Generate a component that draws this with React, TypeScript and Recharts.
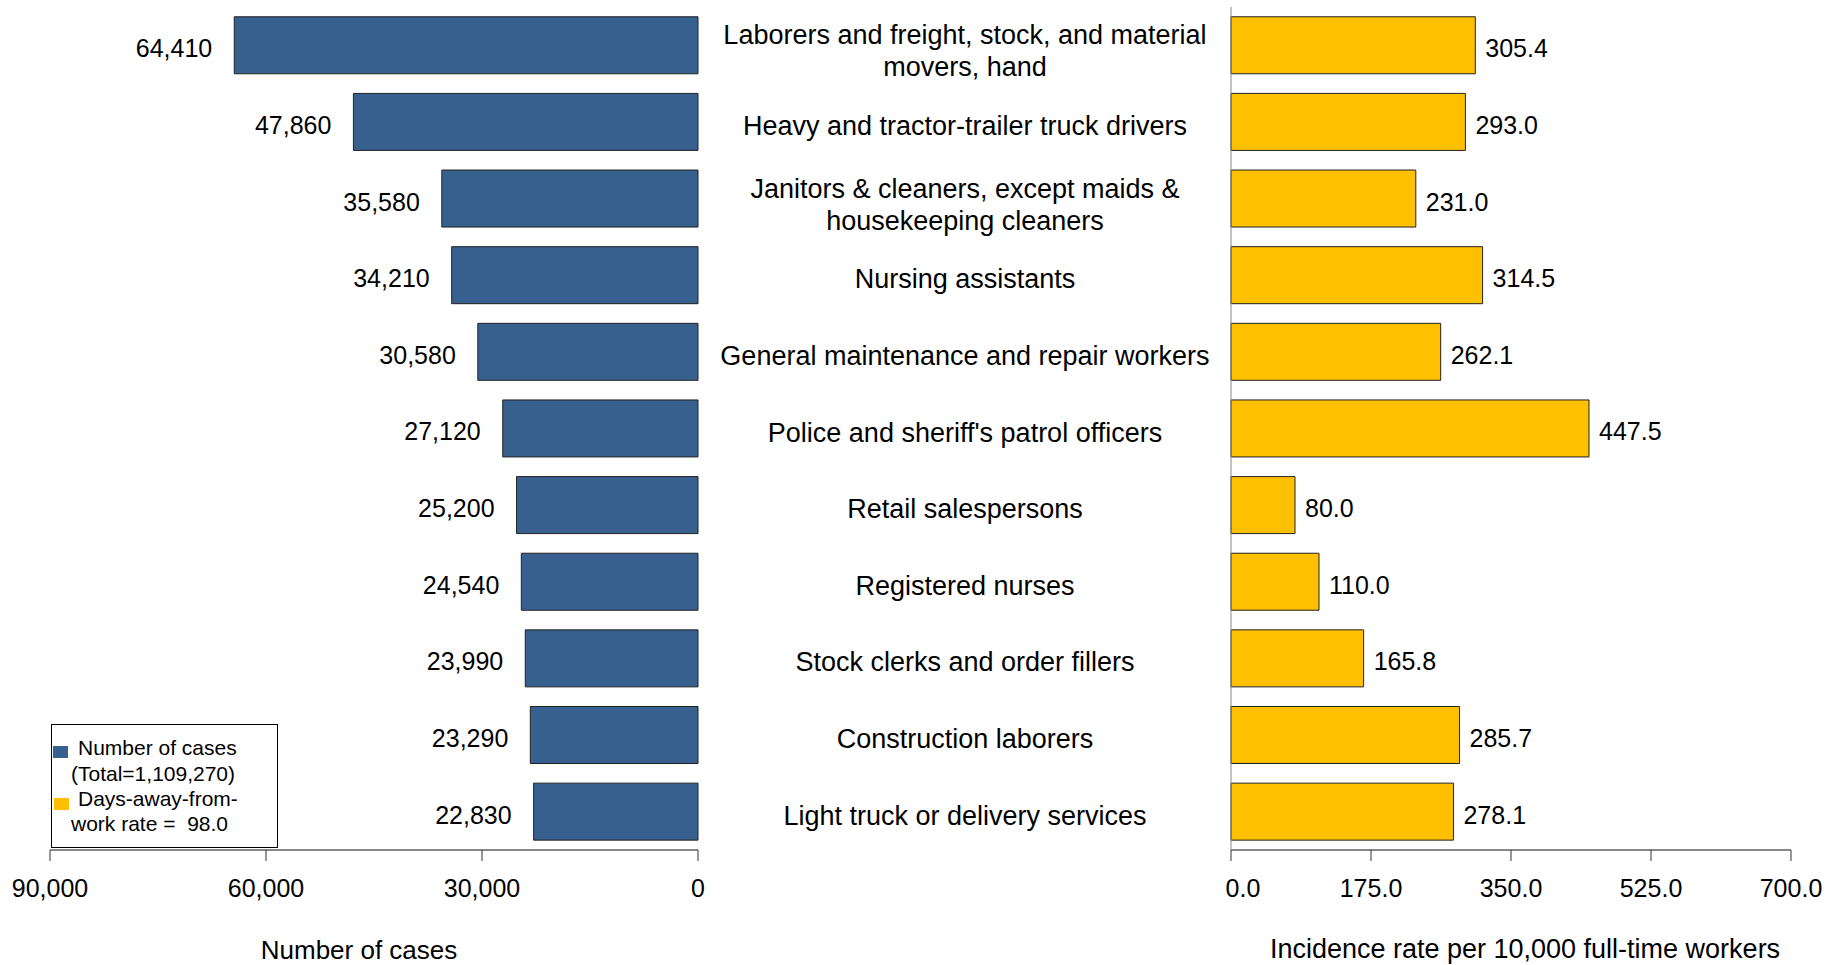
import React from 'react';
import { BarChart, Bar, XAxis, YAxis, LabelList } from 'recharts';

const categories = [
  'Laborers and freight, stock, and material\nmovers, hand',
  'Heavy and tractor-trailer truck drivers',
  'Janitors & cleaners, except maids &\nhousekeeping cleaners',
  'Nursing assistants',
  'General maintenance and repair workers',
  "Police and sheriff's patrol officers",
  'Retail salespersons',
  'Registered nurses',
  'Stock clerks and order fillers',
  'Construction laborers',
  'Light truck or delivery services',
];
const caseCounts = [64410, 47860, 35580, 34210, 30580, 27120, 25200, 24540, 23990, 23290, 22830];
const incidenceRates = [305.4, 293.0, 231.0, 314.5, 262.1, 447.5, 80.0, 110.0, 165.8, 285.7, 278.1];
const caseTicks = [0, 30000, 60000, 90000];
const rateTicks = [0, 175, 350, 525, 700];

const data = categories.map((c, i) => ({ category: c, cases: caseCounts[i], rate: incidenceRates[i] }));

const FONT = '"Liberation Sans", Arial, Helvetica, sans-serif';
const BLUE = '#37608F';
const YELLOW = '#FFC000';

const fmtCases = (v: number) => Number(v).toLocaleString('en-US');
const fmtRate = (v: number) => Number(v).toFixed(1);

const box = (props: any) => {
  const vb = props.viewBox || {};
  const x = Number(props.x ?? vb.x);
  const y = Number(props.y ?? vb.y);
  const w = Number(props.width ?? vb.width);
  const h = Number(props.height ?? vb.height);
  return { x, y, w, h };
};

const LeftValueLabel = (props: any) => {
  const { x, y, w, h } = box(props);
  const left = Math.min(x, x + w);
  return (
    <text x={left - 22} y={y + h / 2 + 12} textAnchor="end" fontSize={25} fontFamily={FONT} fill="#000">
      {fmtCases(props.value)}
    </text>
  );
};

const RightValueLabel = (props: any) => {
  const { x, y, w, h } = box(props);
  const right = Math.max(x, x + w);
  return (
    <text x={right + 10} y={y + h / 2 + 12} textAnchor="start" fontSize={25} fontFamily={FONT} fill="#000">
      {fmtRate(props.value)}
    </text>
  );
};

const CategoryTick = (props: any) => {
  const { x, y, payload } = props;
  const lines = String(payload.value).split('\n');
  const lh = 32;
  const cx = x - 266;
  const first = y + 13 + (lines.length > 1 ? 2 : 0) - ((lines.length - 1) * lh) / 2;
  return (
    <text x={cx} y={first} textAnchor="middle" fontSize={27} fontFamily={FONT} fill="#000">
      {lines.map((l, i) => (
        <tspan key={i} x={cx} y={first + i * lh}>
          {l}
        </tspan>
      ))}
    </text>
  );
};

const CaseTick = (props: any) => {
  const { x, y, payload } = props;
  return (
    <text x={x} y={y} dy={18} textAnchor="middle" fontSize={25} fontFamily={FONT} fill="#000">
      {fmtCases(payload.value)}
    </text>
  );
};

const RateTick = (props: any) => {
  const { x, y, payload } = props;
  const shift = payload.value === 0 ? 12 : 0;
  return (
    <text x={x + shift} y={y} dy={18} textAnchor="middle" fontSize={25} fontFamily={FONT} fill="#000">
      {fmtRate(payload.value)}
    </text>
  );
};

export default function App() {
  return (
    <div style={{ position: 'absolute', left: 0, top: 0, width: 1828, height: 965, background: '#fff', fontFamily: FONT }}>
      <div style={{ position: 'absolute', left: 0, top: 0 }}>
        <BarChart
          width={720}
          height={965}
          data={data}
          layout="vertical"
          margin={{ top: 7, right: 22, bottom: 55, left: 50 }}
          barCategoryGap="12.75%"
        >
          <XAxis
            type="number"
            domain={[0, 90000]}
            ticks={caseTicks}
            interval={0}
            reversed
            height={60}
            tickSize={11}
            tickMargin={18}
            axisLine={{ stroke: '#111' }}
            tickLine={{ stroke: '#333' }}
            tick={<CaseTick />}
          />
          <YAxis
            type="category"
            dataKey="category"
            orientation="right"
            width={0}
            tick={false}
            tickLine={false}
            axisLine={{ stroke: '#888' }}
          />
          <Bar dataKey="cases" fill={BLUE} stroke="#222" strokeWidth={1} isAnimationActive={false}>
            <LabelList dataKey="cases" content={LeftValueLabel} />
          </Bar>
        </BarChart>
      </div>
      <div style={{ position: 'absolute', left: 698, top: 0 }}>
        <BarChart
          width={1130}
          height={965}
          data={data}
          layout="vertical"
          margin={{ top: 7, right: 37, bottom: 55, left: 0 }}
          barCategoryGap="12.75%"
        >
          <XAxis
            type="number"
            domain={[0, 700]}
            ticks={rateTicks}
            interval={0}
            height={60}
            tickSize={11}
            tickMargin={18}
            axisLine={{ stroke: '#111' }}
            tickLine={{ stroke: '#333' }}
            tick={<RateTick />}
          />
          <YAxis
            type="category"
            dataKey="category"
            width={533}
            tickSize={0}
            tickMargin={0}
            tickLine={false}
            interval={0}
            axisLine={{ stroke: '#888' }}
            tick={<CategoryTick />}
          />
          <Bar dataKey="rate" fill={YELLOW} stroke="#222" strokeWidth={1} isAnimationActive={false}>
            <LabelList dataKey="rate" content={RightValueLabel} />
          </Bar>
        </BarChart>
      </div>
      <svg
        width={1828}
        height={965}
        style={{ position: 'absolute', left: 0, top: 0, pointerEvents: 'none' }}
        fontFamily={FONT}
      >
        <text x={359} y={959} textAnchor="middle" fontSize={26} fill="#000">
          Number of cases
        </text>
        <text x={1525} y={958} textAnchor="middle" fontSize={27} fill="#000">
          Incidence rate per 10,000 full-time workers
        </text>
        <g transform="translate(51,724)">
          <rect x={0.5} y={0.5} width={226} height={123} fill="#fff" stroke="#000" strokeWidth={1} />
          <rect x={2} y={22} width={15} height={12} fill={BLUE} />
          <text x={27} y={31} fontSize={21} fill="#000">Number of cases</text>
          <text x={20} y={57} fontSize={21} fill="#000">(Total=1,109,270)</text>
          <rect x={3} y={74} width={15} height={12} fill={YELLOW} />
          <text x={27} y={82} fontSize={21} fill="#000">Days-away-from-</text>
          <text x={20} y={107} fontSize={21} fill="#000" style={{ whiteSpace: 'pre' }}>work rate =  98.0</text>
        </g>
      </svg>
    </div>
  );
}
